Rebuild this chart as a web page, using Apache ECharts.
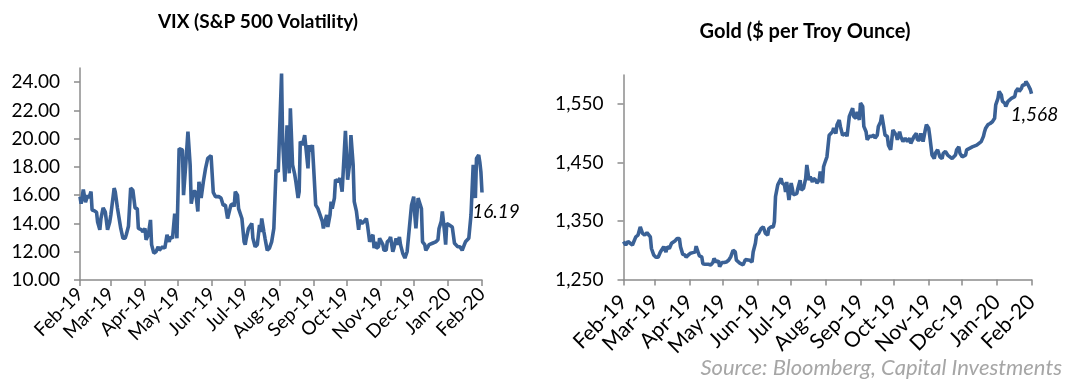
<!DOCTYPE html>
<html>
<head>
<meta charset="utf-8">
<script src="https://cdn.jsdelivr.net/npm/echarts@6/dist/echarts.min.js"></script>
<style>
  html, body { margin: 0; padding: 0; background: #ffffff; }
  #chart { width: 1072px; height: 380px; }
</style>
</head>
<body>
<div id="chart"></div>
<script>
// Month boundaries shown on both date axes
const monthTicks = ['2019-02-01','2019-03-01','2019-04-01','2019-05-01','2019-06-01','2019-07-01',
  '2019-08-01','2019-09-01','2019-10-01','2019-11-01','2019-12-01','2020-01-01','2020-02-01'];
const monthLabels = ['Feb-19','Mar-19','Apr-19','May-19','Jun-19','Jul-19','Aug-19','Sep-19',
  'Oct-19','Nov-19','Dec-19','Jan-20','Feb-20'];

const vixTicks = [10, 12, 14, 16, 18, 20, 22, 24];
const goldTicks = [1250, 1350, 1450, 1550];

// VIX index level
const vix = [
  ['2019-02-01',15.9],['2019-02-02',15.4],['2019-02-04',16.4],['2019-02-06',15.5],['2019-02-08',16.0],
  ['2019-02-09',15.8],['2019-02-11',16.25],['2019-02-12',14.95],['2019-02-14',14.9],['2019-02-16',14.8],
  ['2019-02-17',14.1],['2019-02-19',13.55],['2019-02-20',14.35],['2019-02-22',15.1],['2019-02-24',14.8],
  ['2019-02-26',13.55],['2019-02-28',14.1],['2019-03-01',14.6],['2019-03-04',16.5],['2019-03-05',16.25],
  ['2019-03-07',15.1],['2019-03-10',13.65],['2019-03-12',12.95],['2019-03-14',12.95],['2019-03-15',13.2],
  ['2019-03-17',13.8],['2019-03-19',16.5],['2019-03-21',16.35],['2019-03-23',15.1],['2019-03-25',15.05],
  ['2019-03-26',13.65],['2019-03-29',13.55],['2019-03-30',13.4],['2019-04-01',13.65],['2019-04-02',12.85],
  ['2019-04-04',13.2],['2019-04-06',14.25],['2019-04-07',12.5],['2019-04-09',11.9],['2019-04-11',12.0],
  ['2019-04-13',12.35],['2019-04-14',12.1],['2019-04-17',12.35],['2019-04-19',12.25],['2019-04-21',13.2],
  ['2019-04-23',12.7],['2019-04-24',13.05],['2019-04-26',12.95],['2019-04-28',14.7],['2019-04-29',14.35],
  ['2019-04-30',12.95],['2019-05-02',19.3],['2019-05-05',19.2],['2019-05-06',16.0],['2019-05-08',18.15],
  ['2019-05-10',20.5],['2019-05-12',18.15],['2019-05-13',15.4],['2019-05-15',16.25],['2019-05-17',16.25],
  ['2019-05-19',14.85],['2019-05-20',16.95],['2019-05-22',15.8],['2019-05-24',16.95],['2019-05-26',17.9],
  ['2019-05-28',18.6],['2019-05-31',18.8],['2019-06-02',16.2],['2019-06-04',15.9],['2019-06-05',16.0],
  ['2019-06-07',15.9],['2019-06-09',15.8],['2019-06-11',15.3],['2019-06-13',15.3],['2019-06-15',14.35],
  ['2019-06-18',15.3],['2019-06-20',15.4],['2019-06-21',15.2],['2019-06-22',16.25],['2019-06-24',16.0],
  ['2019-06-25',15.05],['2019-06-28',14.35],['2019-06-30',12.7],['2019-07-01',12.5],['2019-07-02',12.95],
  ['2019-07-04',13.65],['2019-07-07',14.0],['2019-07-08',12.95],['2019-07-10',12.35],['2019-07-12',12.5],
  ['2019-07-14',13.9],['2019-07-15',13.4],['2019-07-16',14.35],['2019-07-18',13.4],['2019-07-19',12.95],
  ['2019-07-21',12.1],['2019-07-23',12.25],['2019-07-25',12.7],['2019-07-27',13.65],['2019-07-29',17.8],
  ['2019-07-31',17.65],['2019-08-03',24.6],['2019-08-04',19.8],['2019-08-06',16.95],['2019-08-08',20.95],
  ['2019-08-10',17.55],['2019-08-11',22.15],['2019-08-13',18.15],['2019-08-15',17.45],['2019-08-16',16.95],
  ['2019-08-18',15.8],['2019-08-19',16.25],['2019-08-20',19.8],['2019-08-22',19.55],['2019-08-24',20.25],
  ['2019-08-27',17.9],['2019-08-28',19.55],['2019-08-29',19.1],['2019-08-31',19.55],['2019-09-01',18.15],
  ['2019-09-03',15.3],['2019-09-05',15.05],['2019-09-06',15.05],['2019-09-09',14.15],['2019-09-10',13.65],
  ['2019-09-13',14.6],['2019-09-14',13.75],['2019-09-16',14.6],['2019-09-17',15.55],['2019-09-18',15.05],
  ['2019-09-20',15.8],['2019-09-21',17.1],['2019-09-23',16.95],['2019-09-25',17.2],['2019-09-27',16.25],
  ['2019-09-30',20.55],['2019-10-02',17.1],['2019-10-04',18.35],['2019-10-05',20.25],['2019-10-07',18.15],
  ['2019-10-08',15.55],['2019-10-10',14.85],['2019-10-12',13.55],['2019-10-13',14.25],['2019-10-15',14.0],
  ['2019-10-17',14.15],['2019-10-19',14.35],['2019-10-20',13.9],['2019-10-22',12.7],['2019-10-23',12.95],
  ['2019-10-25',13.2],['2019-10-26',12.25],['2019-10-27',12.7],['2019-10-28',12.25],['2019-10-30',12.35],
  ['2019-10-31',12.95],['2019-11-01',12.95],['2019-11-03',12.5],['2019-11-04',12.1],['2019-11-06',12.1],
  ['2019-11-07',12.7],['2019-11-09',12.85],['2019-11-10',13.05],['2019-11-12',12.0],['2019-11-13',12.25],
  ['2019-11-15',12.95],['2019-11-16',12.5],['2019-11-18',13.05],['2019-11-19',12.5],['2019-11-21',11.9],
  ['2019-11-23',11.55],['2019-11-25',12.0],['2019-11-27',13.65],['2019-11-29',15.3],['2019-12-01',15.9],
  ['2019-12-02',14.6],['2019-12-03',13.65],['2019-12-05',15.8],['2019-12-06',15.9],['2019-12-08',15.05],
  ['2019-12-09',12.7],['2019-12-11',12.5],['2019-12-12',12.1],['2019-12-14',12.35],['2019-12-15',12.5],
  ['2019-12-18',12.6],['2019-12-21',12.7],['2019-12-23',12.85],['2019-12-24',13.65],['2019-12-26',14.15],
  ['2019-12-27',14.85],['2019-12-29',13.4],['2019-12-30',12.5],['2019-12-31',14.0],['2020-01-02',13.9],
  ['2020-01-05',13.75],['2020-01-07',12.6],['2020-01-10',12.35],['2020-01-12',12.35],['2020-01-14',12.1],
  ['2020-01-16',12.5],['2020-01-17',12.7],['2020-01-20',12.95],['2020-01-22',14.6],['2020-01-24',18.15],
  ['2020-01-26',15.8],['2020-01-27',18.6],['2020-01-29',18.85],['2020-01-30',18.35],['2020-01-31',17.65],
  ['2020-02-01',16.19]
];

// Gold spot, USD per troy ounce
const gold = [
  ['2019-02-01',1315],['2019-02-03',1309],['2019-02-05',1315],['2019-02-07',1312],['2019-02-09',1309],
  ['2019-02-12',1323],['2019-02-14',1326],['2019-02-16',1340],['2019-02-18',1329],['2019-02-20',1326],
  ['2019-02-22',1330],['2019-02-23',1329],['2019-02-25',1323],['2019-02-26',1303],['2019-02-28',1292],
  ['2019-03-02',1288],['2019-03-04',1288],['2019-03-06',1297],['2019-03-07',1295],['2019-03-09',1306],
  ['2019-03-11',1297],['2019-03-12',1306],['2019-03-14',1303],['2019-03-16',1312],['2019-03-19',1316],
  ['2019-03-21',1320],['2019-03-23',1320],['2019-03-24',1306],['2019-03-26',1293],['2019-03-28',1292],
  ['2019-03-29',1288],['2019-03-31',1292],['2019-04-02',1295],['2019-04-04',1296],['2019-04-06',1297],
  ['2019-04-07',1307],['2019-04-09',1295],['2019-04-10',1290],['2019-04-12',1289],['2019-04-13',1277],
  ['2019-04-15',1276],['2019-04-18',1276],['2019-04-20',1275],['2019-04-22',1279],['2019-04-23',1286],
  ['2019-04-25',1280],['2019-04-27',1282],['2019-04-28',1272],['2019-04-30',1279],['2019-05-02',1279],
  ['2019-05-04',1280],['2019-05-06',1283],['2019-05-08',1289],['2019-05-10',1300],['2019-05-12',1297],
  ['2019-05-13',1283],['2019-05-16',1278],['2019-05-19',1275],['2019-05-21',1284],['2019-05-25',1283],
  ['2019-05-27',1280],['2019-05-28',1297],['2019-05-30',1312],['2019-05-31',1326],['2019-06-02',1329],
  ['2019-06-04',1337],['2019-06-06',1340],['2019-06-08',1329],['2019-06-10',1326],['2019-06-11',1337],
  ['2019-06-13',1340],['2019-06-15',1340],['2019-06-16',1349],['2019-06-17',1392],['2019-06-19',1412],
  ['2019-06-22',1423],['2019-06-23',1415],['2019-06-25',1412],['2019-06-26',1400],['2019-06-27',1417],
  ['2019-06-29',1386],['2019-07-01',1415],['2019-07-02',1406],['2019-07-03',1395],['2019-07-06',1397],
  ['2019-07-07',1406],['2019-07-09',1420],['2019-07-10',1403],['2019-07-12',1406],['2019-07-14',1423],
  ['2019-07-15',1446],['2019-07-17',1420],['2019-07-18',1426],['2019-07-20',1417],['2019-07-21',1423],
  ['2019-07-23',1420],['2019-07-24',1415],['2019-07-26',1420],['2019-07-27',1435],['2019-07-29',1415],
  ['2019-07-30',1443],['2019-07-31',1449],['2019-08-02',1460],['2019-08-04',1497],['2019-08-05',1500],
  ['2019-08-07',1503],['2019-08-08',1509],['2019-08-10',1500],['2019-08-11',1515],['2019-08-13',1523],
  ['2019-08-14',1512],['2019-08-16',1497],['2019-08-17',1497],['2019-08-19',1500],['2019-08-20',1495],
  ['2019-08-22',1529],['2019-08-23',1532],['2019-08-25',1543],['2019-08-26',1529],['2019-08-28',1526],
  ['2019-08-29',1537],['2019-08-31',1523],['2019-09-01',1552],['2019-09-03',1546],['2019-09-04',1512],
  ['2019-09-06',1503],['2019-09-07',1489],['2019-09-09',1495],['2019-09-10',1497],['2019-09-11',1495],
  ['2019-09-13',1497],['2019-09-14',1492],['2019-09-16',1497],['2019-09-17',1512],['2019-09-19',1520],
  ['2019-09-20',1532],['2019-09-22',1509],['2019-09-23',1497],['2019-09-25',1495],['2019-09-26',1480],
  ['2019-09-28',1472],['2019-09-30',1506],['2019-10-01',1506],['2019-10-03',1497],['2019-10-04',1489],
  ['2019-10-06',1503],['2019-10-07',1495],['2019-10-09',1486],['2019-10-11',1492],['2019-10-13',1486],
  ['2019-10-15',1492],['2019-10-16',1483],['2019-10-19',1495],['2019-10-21',1500],['2019-10-22',1489],
  ['2019-10-24',1489],['2019-10-25',1500],['2019-10-27',1486],['2019-10-29',1506],['2019-10-30',1515],
  ['2019-11-01',1509],['2019-11-02',1495],['2019-11-04',1463],['2019-11-06',1457],['2019-11-07',1466],
  ['2019-11-09',1472],['2019-11-10',1469],['2019-11-11',1460],['2019-11-13',1457],['2019-11-14',1466],
  ['2019-11-16',1469],['2019-11-18',1463],['2019-11-20',1460],['2019-11-22',1457],['2019-11-23',1460],
  ['2019-11-25',1463],['2019-11-26',1472],['2019-11-28',1477],['2019-11-29',1466],['2019-12-01',1460],
  ['2019-12-02',1463],['2019-12-04',1463],['2019-12-05',1472],['2019-12-08',1475],['2019-12-10',1477],
  ['2019-12-11',1477],['2019-12-14',1480],['2019-12-16',1483],['2019-12-18',1486],['2019-12-20',1495],
  ['2019-12-21',1503],['2019-12-22',1509],['2019-12-24',1515],['2019-12-26',1517],['2019-12-28',1520],
  ['2019-12-30',1526],['2019-12-31',1549],['2020-01-02',1560],['2020-01-03',1572],['2020-01-05',1566],
  ['2020-01-06',1555],['2020-01-08',1552],['2020-01-09',1546],['2020-01-11',1555],['2020-01-12',1555],
  ['2020-01-14',1560],['2020-01-15',1563],['2020-01-17',1563],['2020-01-18',1572],['2020-01-20',1577],
  ['2020-01-21',1572],['2020-01-23',1577],['2020-01-24',1583],['2020-01-26',1583],['2020-01-27',1589],
  ['2020-01-28',1587],['2020-01-29',1583],['2020-01-30',1580],['2020-01-31',1575],['2020-02-01',1568]
];

const FONT = 'Lato, "Noto Sans", sans-serif';
const LINE = '#3a6196';
const AXIS = '#8c8c8c';

// Dates are placed on a numeric (timestamp) axis so month ticks can be listed explicitly
function toTime(s) {
  const p = s.split('-').map(Number);
  return Date.UTC(p[0], p[1] - 1, p[2]);
}
const tickTimes = monthTicks.map(toTime);

function monthLabel(v) {
  const i = tickTimes.findIndex(t => Math.abs(t - v) < 3600000);
  return i >= 0 ? monthLabels[i] : '';
}

function dateAxis(gridIndex, margin, fontSize) {
  return {
    type: 'value', gridIndex, scale: true,
    min: tickTimes[0], max: tickTimes[tickTimes.length - 1],
    axisLine: { show: true, onZero: false, lineStyle: { color: AXIS, width: 1.5 } },
    axisTick: { show: true, length: 6, customValues: tickTimes, lineStyle: { color: AXIS, width: 1.5 } },
    axisLabel: {
      customValues: tickTimes, rotate: 45, margin, formatter: monthLabel,
      color: '#000', fontFamily: FONT, fontSize, hideOverlap: false
    },
    splitLine: { show: false }
  };
}

function valueAxis(gridIndex, min, max, ticks, fmt) {
  return {
    type: 'value', gridIndex, min, max,
    axisLine: { show: true, onZero: false, lineStyle: { color: AXIS, width: 1.5 } },
    axisTick: { show: true, length: 6, customValues: ticks, lineStyle: { color: AXIS, width: 1.5 } },
    axisLabel: { customValues: ticks, formatter: fmt, margin: 20, color: '#000', fontFamily: FONT, fontSize: 19 },
    splitLine: { show: false }
  };
}

function lineSeries(idx, rows, labelFmt, offset) {
  return {
    type: 'line', xAxisIndex: idx, yAxisIndex: idx,
    data: rows.map(r => [toTime(r[0]), r[1]]),
    showSymbol: false, symbol: 'none',
    lineStyle: { color: LINE, width: 3.6 },
    itemStyle: { color: LINE },
    endLabel: {
      show: true, distance: 0, offset, align: 'center', verticalAlign: 'top',
      formatter: p => labelFmt(p.value[1]),
      color: '#000', fontFamily: FONT, fontStyle: 'italic', fontSize: 19
    },
    animation: false
  };
}

const chart = echarts.init(document.getElementById('chart'), null, { renderer: 'canvas' });
chart.setOption({
  backgroundColor: '#ffffff',
  animation: false,
  grid: [
    { left: 80, right: 590, top: 68, bottom: 100, containLabel: false },
    { left: 623.5, right: 40.5, top: 75, bottom: 100.5, containLabel: false }
  ],
  xAxis: [dateAxis(0, 11, 19), dateAxis(1, 19, 21)],
  yAxis: [
    valueAxis(0, 10, 25, vixTicks, v => v.toFixed(2)),
    valueAxis(1, 1250, 1600, goldTicks, v => v.toLocaleString('en-US'))
  ],
  series: [
    lineSeries(0, vix, v => v.toFixed(2), [14, 10]),
    lineSeries(1, gold, v => Math.round(v).toLocaleString('en-US'), [3, 12])
  ],
  graphic: [
    { type: 'text', x: 258, y: 22, style: { text: 'VIX (S&P 500 Volatility)', align: 'center', verticalAlign: 'middle',
      font: 'bold 19px ' + FONT, fill: '#000' } },
    { type: 'text', x: 805, y: 32, style: { text: 'Gold ($ per Troy Ounce)', align: 'center', verticalAlign: 'middle',
      font: 'bold 20px ' + FONT, fill: '#000' } },
    { type: 'text', x: 1062, y: 368, style: { text: 'Source: Bloomberg, Capital Investments', align: 'right',
      verticalAlign: 'middle', font: 'italic 22px ' + FONT, fill: '#a6a6a6' } }
  ]
});
</script>
</body>
</html>
